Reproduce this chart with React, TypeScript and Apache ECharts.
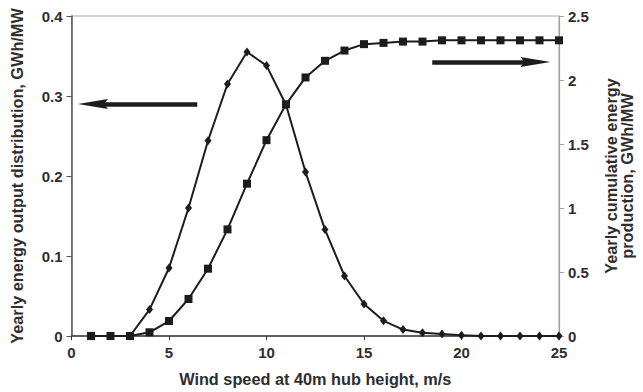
import React, { useEffect, useRef } from "react";
import * as echarts from "echarts";

const windSpeed = [1, 2, 3, 4, 5, 6, 7, 8, 9, 10, 11, 12, 13, 14, 15, 16, 17, 18, 19, 20, 21, 22, 23, 24, 25];
const yearlyDistribution = [0, 0, 0, 0.033, 0.085, 0.16, 0.244, 0.315, 0.355, 0.338, 0.289, 0.205, 0.133, 0.075, 0.04, 0.019, 0.008, 0.004, 0.0025, 0.001, 0, 0, 0, 0, 0];
const cumulativeProduction = [0, 0, 0, 0.029, 0.117, 0.289, 0.526, 0.833, 1.19, 1.53, 1.81, 2.02, 2.15, 2.23, 2.28, 2.29, 2.3, 2.3, 2.31, 2.31, 2.31, 2.31, 2.31, 2.31, 2.31];
const xTicks = [0, 5, 10, 15, 20, 25];
const leftTicks = [0, 0.1, 0.2, 0.3, 0.4];
const rightTicks = [0, 0.5, 1, 1.5, 2, 2.5];
// annotation arrows: [tail, shaft end, tip] in data coordinates
const leftArrow = [[6.45, 0.29], [1.3, 0.29], [0.33, 0.29]];
const rightArrow = [[18.5, 2.14], [23.6, 2.14], [24.56, 2.14]];

const FONT = "Liberation Sans, Arial, sans-serif";
const TXT = "#2e2e2e";
const LINE = "#1c1c1c";
const HEAD = "path://M0,5 L30,0.5 L26,5 L30,9.5 Z";

export default function App() {
  const ref = useRef<HTMLDivElement>(null);
  useEffect(() => {
    if (!ref.current) return;
    const chart = echarts.init(ref.current, null, { renderer: "svg" });
    const tickStyle = { color: TXT, fontFamily: FONT, fontWeight: "bold", fontSize: 15 };
    const nameStyle = { color: TXT, fontFamily: FONT, fontWeight: "bold", fontSize: 16.3, align: "center", verticalAlign: "middle" };
    const arrowLine = (pts: number[][]) => ({
      silent: true,
      symbol: ["none", "none"],
      label: { show: false },
      lineStyle: { color: LINE, width: 4.5, type: "solid" },
      data: [[{ coord: pts[0] }, { coord: pts[1] }]],
    });
    const arrowHead = (pts: number[][], pointsLeft: boolean) => ({
      silent: true,
      label: { show: false },
      itemStyle: { color: LINE },
      data: [
        {
          coord: pts[2],
          symbol: HEAD,
          symbolSize: [30, 10],
          symbolRotate: pointsLeft ? 0 : 180,
          symbolOffset: [pointsLeft ? 15 : -15, 0],
        },
      ],
    });
    chart.setOption({
      animation: false,
      backgroundColor: "#ffffff",
      grid: {
        left: 71.5,
        right: 80.5,
        top: 16,
        bottom: 56,
        show: true,
        borderColor: "#a8a8a8",
        borderWidth: 1,
        backgroundColor: "transparent",
      },
      xAxis: {
        type: "value",
        min: xTicks[0],
        max: xTicks[xTicks.length - 1],
        interval: 5,
        name: "Wind speed at 40m hub height, m/s",
        nameLocation: "middle",
        nameGap: 43,
        nameTextStyle: { ...nameStyle },
        axisLine: { show: true, lineStyle: { color: "#3a3a3a", width: 1.5 } },
        axisTick: { show: true, length: 4, lineStyle: { color: "#3a3a3a" } },
        axisLabel: { ...tickStyle, margin: 9 },
        splitLine: { show: false },
      },
      yAxis: [
        {
          type: "value",
          min: leftTicks[0],
          max: leftTicks[leftTicks.length - 1],
          interval: 0.1,
          position: "left",
          name: "Yearly energy output distribution, GWh/MW",
          nameLocation: "middle",
          nameRotate: 90,
          nameGap: 55,
          nameTextStyle: { ...nameStyle },
          axisLine: { show: true, lineStyle: { color: "#555555", width: 1.5 } },
          axisTick: { show: true, length: 5, lineStyle: { color: "#555555" } },
          axisLabel: { ...tickStyle, margin: 9 },
          splitLine: { show: false },
        },
        {
          type: "value",
          min: rightTicks[0],
          max: rightTicks[rightTicks.length - 1],
          interval: 0.5,
          position: "right",
          name: "Yearly cumulative energy\nproduction, GWh/MW",
          nameLocation: "middle",
          nameRotate: 90,
          nameGap: 60,
          nameTextStyle: { ...nameStyle, lineHeight: 16 },
          axisLine: { show: true, lineStyle: { color: "#a0a0a0", width: 1.2 } },
          axisTick: { show: true, length: 5, lineStyle: { color: "#a0a0a0" } },
          axisLabel: { ...tickStyle, margin: 9 },
          splitLine: { show: false },
        },
      ],
      series: [
        {
          type: "line",
          yAxisIndex: 0,
          data: windSpeed.map((x, i) => [x, yearlyDistribution[i]]),
          symbol: "diamond",
          symbolSize: [7, 9],
          lineStyle: { color: LINE, width: 2 },
          itemStyle: { color: LINE },
          z: 2,
          markLine: arrowLine(leftArrow),
          markPoint: arrowHead(leftArrow, true),
        },
        {
          type: "line",
          yAxisIndex: 1,
          data: windSpeed.map((x, i) => [x, cumulativeProduction[i]]),
          symbol: "rect",
          symbolSize: 8,
          lineStyle: { color: LINE, width: 2 },
          itemStyle: { color: LINE },
          z: 3,
          markLine: arrowLine(rightArrow),
          markPoint: arrowHead(rightArrow, false),
        },
      ],
    });
    return () => chart.dispose();
  }, []);
  return <div ref={ref} style={{ width: 643, height: 392, position: "absolute", left: 0, top: 0 }} />;
}
